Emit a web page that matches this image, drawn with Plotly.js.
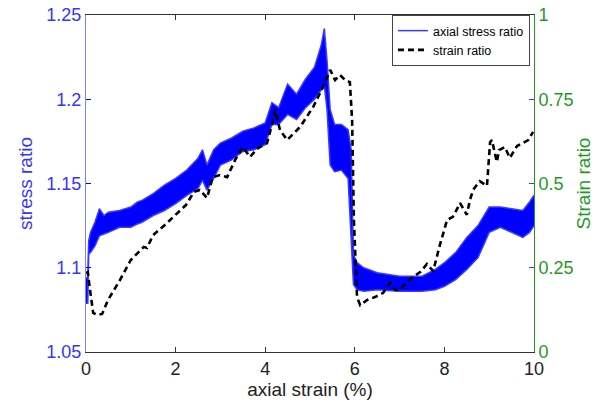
<!DOCTYPE html>
<html>
<head>
<meta charset="utf-8">
<script src="https://cdn.plot.ly/plotly-3.0.1.min.js"></script>
<style>html,body{margin:0;padding:0;background:#fff;}#chart{width:596px;height:400px;}</style>
</head>
<body>
<div id="chart"></div>
<script>
// axial stress ratio: noisy band read as upper / lower envelope
const stressX = [0, 0.04, 0.06, 0.1, 0.2, 0.3, 0.4, 0.5, 0.75, 1.0, 1.15, 1.25, 1.5, 1.75, 2.0, 2.25, 2.5, 2.6, 2.7, 2.85, 3.0, 3.25, 3.5, 3.75, 4.0, 4.15, 4.3, 4.5, 4.7, 4.9, 5.1, 5.25, 5.32, 5.38, 5.45, 5.55, 5.7, 5.85, 5.92, 5.97, 6.05, 6.2, 6.5, 7.0, 7.5, 7.8, 8.0, 8.25, 8.5, 8.75, 9.0, 9.25, 9.5, 9.75, 9.9, 10.0];
const stressUpper = [1.094, 1.094, 1.116, 1.121, 1.127, 1.135, 1.131, 1.133, 1.134, 1.136, 1.139, 1.140, 1.144, 1.149, 1.153, 1.158, 1.165, 1.170, 1.161, 1.170, 1.174, 1.177, 1.181, 1.183, 1.186, 1.198, 1.195, 1.209, 1.203, 1.212, 1.219, 1.232, 1.242, 1.223, 1.194, 1.185, 1.185, 1.182, 1.170, 1.108, 1.103, 1.100, 1.097, 1.095, 1.095, 1.099, 1.103, 1.109, 1.118, 1.125, 1.136, 1.136, 1.135, 1.134, 1.139, 1.143];
const stressLower = [1.079, 1.079, 1.108, 1.109, 1.113, 1.119, 1.120, 1.121, 1.124, 1.124, 1.126, 1.127, 1.131, 1.134, 1.138, 1.143, 1.147, 1.152, 1.146, 1.153, 1.161, 1.164, 1.169, 1.170, 1.173, 1.185, 1.185, 1.191, 1.188, 1.195, 1.200, 1.205, 1.208, 1.194, 1.161, 1.157, 1.158, 1.153, 1.111, 1.090, 1.087, 1.086, 1.087, 1.086, 1.086, 1.087, 1.089, 1.093, 1.099, 1.106, 1.121, 1.124, 1.121, 1.118, 1.121, 1.125];

// strain ratio (right axis)
const strainX = [0.00, 0.04, 0.09, 0.16, 0.25, 0.36, 0.49, 0.76, 1.00, 1.21, 1.29, 1.36, 1.50, 1.76, 2.01, 2.23, 2.41, 2.54, 2.70, 2.83, 2.99, 3.15, 3.33, 3.50, 3.66, 3.84, 4.04, 4.15, 4.22, 4.33, 4.49, 4.78, 5.07, 5.29, 5.45, 5.56, 5.67, 5.78, 5.89, 5.94, 5.98, 6.05, 6.12, 6.27, 6.45, 6.63, 6.79, 6.90, 7.01, 7.17, 7.30, 7.46, 7.61, 7.75, 7.90, 8.06, 8.19, 8.35, 8.50, 8.57, 8.64, 8.79, 8.95, 9.02, 9.06, 9.17, 9.22, 9.35, 9.46, 9.62, 9.75, 9.87, 9.98];
const strainY = [0.234, 0.237, 0.184, 0.116, 0.110, 0.113, 0.154, 0.214, 0.273, 0.303, 0.312, 0.309, 0.347, 0.377, 0.407, 0.436, 0.475, 0.481, 0.457, 0.519, 0.525, 0.519, 0.570, 0.608, 0.579, 0.605, 0.620, 0.674, 0.718, 0.659, 0.629, 0.668, 0.727, 0.786, 0.837, 0.807, 0.822, 0.807, 0.801, 0.688, 0.392, 0.163, 0.139, 0.154, 0.163, 0.175, 0.205, 0.184, 0.184, 0.208, 0.223, 0.237, 0.261, 0.240, 0.318, 0.392, 0.401, 0.442, 0.407, 0.451, 0.481, 0.507, 0.493, 0.623, 0.629, 0.564, 0.599, 0.608, 0.576, 0.611, 0.620, 0.629, 0.653];

const xTicks = [0, 2, 4, 6, 8, 10];
const yTicks = [1.05, 1.1, 1.15, 1.2, 1.25];
const yTickText = ['1.05', '1.1', '1.15', '1.2', '1.25'];
const y2Ticks = [0, 0.25, 0.5, 0.75, 1];
const y2TickText = ['0', '0.25', '0.5', '0.75', '1'];

const BLUE = '#0000ff';
const BLUE_TXT = '#3535ff';
const GREEN = '#1f9a1f';
const FONT = 'Arial, "Liberation Sans", sans-serif';

const traces = [
  {x: stressX, y: stressLower, type: 'scatter', mode: 'lines', name: 'axial stress ratio',
   line: {color: '#3a3aff', width: 1.5}, showlegend: true, xaxis: 'x', yaxis: 'y'},
  {x: stressX, y: stressUpper, type: 'scatter', mode: 'lines', name: 'axial stress ratio',
   line: {color: '#3a3aff', width: 1.5}, fill: 'tonexty', fillcolor: BLUE, showlegend: false, xaxis: 'x', yaxis: 'y'},
  {x: strainX, y: strainY, type: 'scatter', mode: 'lines', name: 'strain ratio',
   line: {color: '#000000', width: 2.6, dash: '6px,4px'}, xaxis: 'x', yaxis: 'y2'}
];

const layout = {
  width: 596, height: 400,
  margin: {l: 86, r: 62, t: 15, b: 48},
  paper_bgcolor: '#ffffff', plot_bgcolor: '#ffffff',
  font: {family: FONT, size: 18, color: '#222'},
  showlegend: true,
  legend: {x: 0.991, y: 1.0, xanchor: 'right', yanchor: 'top', traceorder: 'normal',
    bgcolor: '#ffffff', bordercolor: '#444', borderwidth: 1,
    font: {family: FONT, size: 12.5, color: '#000'}, tracegroupgap: 0},
  xaxis: {range: [0, 10], tickvals: xTicks, ticktext: xTicks.map(String),
    showgrid: false, zeroline: false, showline: true, linecolor: '#333', linewidth: 1,
    mirror: 'ticks', ticks: 'inside', ticklen: 5, tickcolor: '#333',
    tickfont: {size: 18, color: '#222'},
    title: {text: 'axial strain (%)', font: {size: 19, color: '#222'}, standoff: 0}},
  yaxis: {range: [1.05, 1.25], tickvals: yTicks, ticktext: yTickText,
    showgrid: false, zeroline: false, showline: true, linecolor: '#7f7fff', linewidth: 1,
    ticks: 'inside', ticklen: 5, tickcolor: BLUE,
    tickfont: {size: 18, color: BLUE_TXT},
    title: {text: 'stress ratio', font: {size: 19, color: BLUE_TXT}, standoff: 8}},
  yaxis2: {range: [0, 1], tickvals: y2Ticks, ticktext: y2TickText, overlaying: 'y', side: 'right',
    showgrid: false, zeroline: false, showline: true, linecolor: GREEN, linewidth: 1,
    ticks: 'inside', ticklen: 5, tickcolor: '#3a3aff',
    tickfont: {size: 18, color: GREEN},
    title: {text: 'Strain ratio', font: {size: 19, color: GREEN}, standoff: 4}}
};

Plotly.newPlot('chart', traces, layout, {displayModeBar: false, staticPlot: true});
</script>
</body>
</html>
